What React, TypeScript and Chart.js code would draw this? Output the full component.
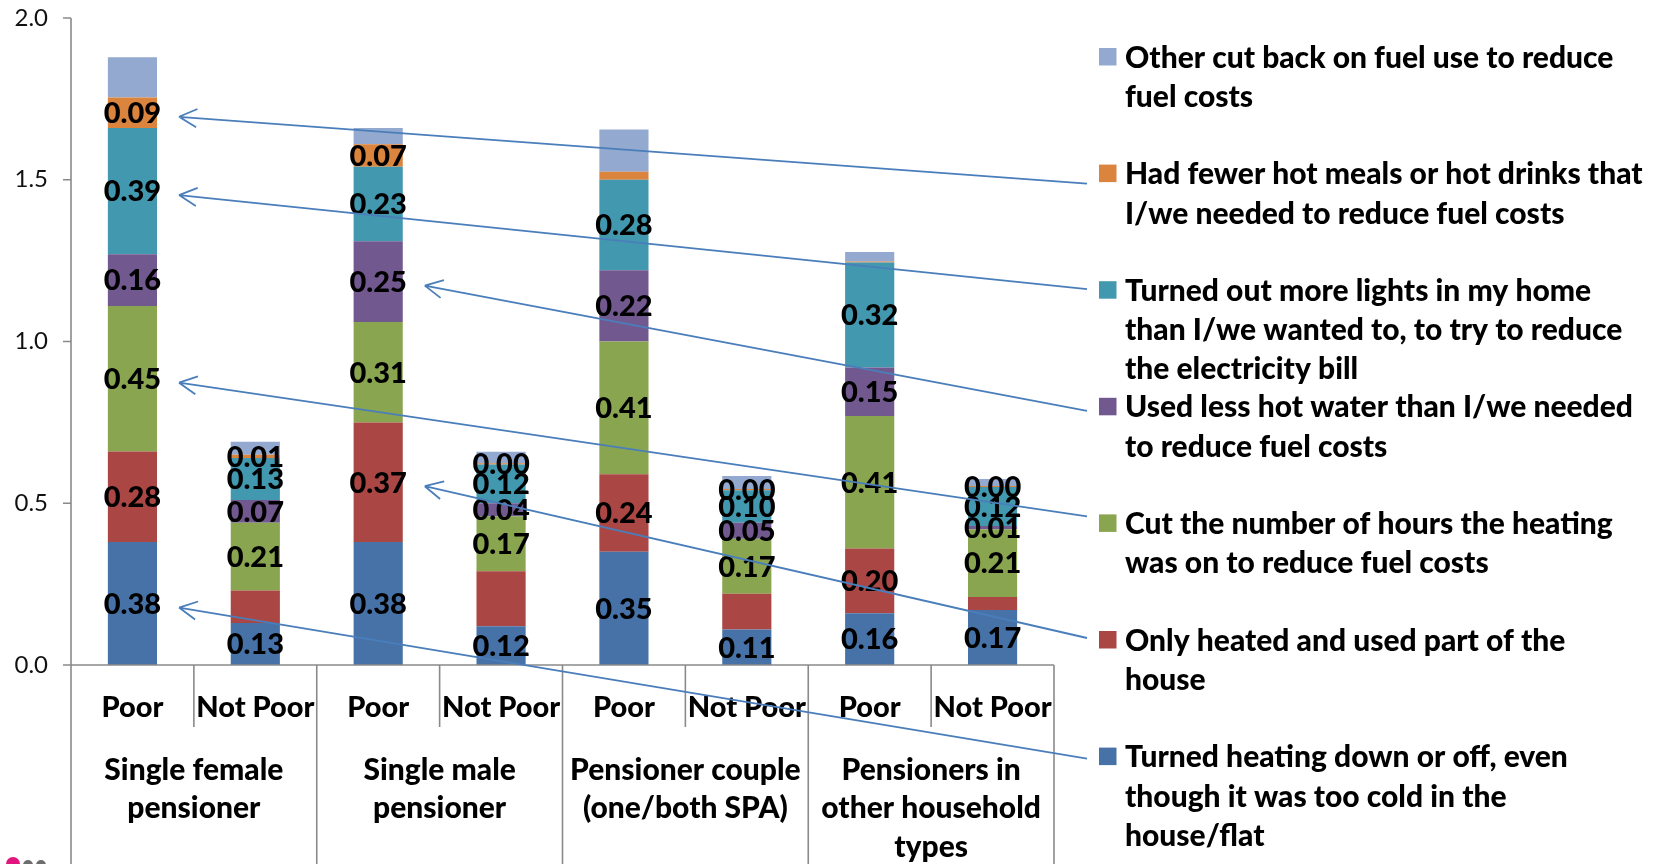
import React, { useEffect, useRef } from "react";
import { Chart, registerables } from "chart.js";

Chart.register(...registerables);

// ---------- data ----------
const povertyLabels = ["Poor", "Not Poor", "Poor", "Not Poor", "Poor", "Not Poor", "Poor", "Not Poor"];
const groupLabels = [
  ["Single female", "pensioner"],
  ["Single male", "pensioner"],
  ["Pensioner couple", "(one/both SPA)"],
  ["Pensioners in", "other household", "types"],
];
const yTickValues = [0, 0.5, 1.0, 1.5, 2.0];

const turnedHeatingDown = [0.38, 0.13, 0.38, 0.12, 0.35, 0.11, 0.16, 0.17];
const heatedPartOfHouse = [0.28, 0.10, 0.37, 0.17, 0.24, 0.11, 0.20, 0.04];
const cutHeatingHours = [0.45, 0.21, 0.31, 0.17, 0.41, 0.17, 0.41, 0.21];
const lessHotWater = [0.16, 0.07, 0.25, 0.04, 0.22, 0.05, 0.15, 0.01];
const turnedOutLights = [0.39, 0.13, 0.23, 0.12, 0.28, 0.10, 0.324, 0.12];
const fewerHotMeals = [0.094, 0.01, 0.07, 0.004, 0.025, 0.004, 0.003, 0.003];
const otherCutBack = [0.125, 0.04, 0.05, 0.035, 0.13, 0.04, 0.03, 0.022];

// which value labels are shown (per series, per bar)
const showHeatingDown = [true, true, true, true, true, true, true, true];
const showPartOfHouse = [true, false, true, false, true, false, true, false];
const showHeatingHours = [true, true, true, true, true, true, true, true];
const showHotWater = [true, true, true, true, true, true, true, true];
const showLights = [true, true, true, true, true, true, true, true];
const showHotMeals = [true, true, true, true, false, true, false, true];
const showOther = [false, false, false, false, false, false, false, false];

const seriesNames = [
  "Turned heating down or off, even though it was too cold in the house/flat",
  "Only heated and used part of the house",
  "Cut the number of hours the heating was on to reduce fuel costs",
  "Used less hot water than I/we needed to reduce fuel costs",
  "Turned out more lights in my home than I/we wanted to, to try to reduce the electricity bill",
  "Had fewer hot meals or hot drinks that I/we needed to reduce fuel costs",
  "Other cut back on fuel use to reduce fuel costs",
];
const legendLines = [
  ["Turned heating down or off, even", "though it was too cold in the", "house/flat"],
  ["Only heated and used part of the", "house"],
  ["Cut the number of hours the heating", "was on to reduce fuel costs"],
  ["Used less hot water than I/we needed", "to reduce fuel costs"],
  ["Turned out more lights in my home", "than I/we wanted to, to try to reduce", "the electricity bill"],
  ["Had fewer hot meals or hot drinks that", "I/we needed to reduce fuel costs"],
  ["Other cut back on fuel use to reduce", "fuel costs"],
];
const seriesValues = [
  turnedHeatingDown,
  heatedPartOfHouse,
  cutHeatingHours,
  lessHotWater,
  turnedOutLights,
  fewerHotMeals,
  otherCutBack,
];
const seriesShow = [showHeatingDown, showPartOfHouse, showHeatingHours, showHotWater, showLights, showHotMeals, showOther];

// arrows: [series index, bar index]
const arrowSeries = [5, 4, 3, 2, 1, 0];
const arrowBars = [0, 0, 2, 0, 2, 0];

// ---------- styles ----------
const COLORS = ["#4672A8", "#AA4643", "#8AA54F", "#71588F", "#4298AF", "#DB843D", "#93A9CF"];
const AXIS_COLOR = "#8A8A8A";
const ARROW_COLOR = "#4A7EBB";
const FONT = "Lato, 'Open Sans', sans-serif";
// y offset of arrow start relative to the legend square top, per series
const arrowStartOffset = [11, 7, 2, 13, 8, 19, 0];

const overlayPlugin = {
  id: "overlay",
  afterDatasetsDraw(chart: any) {
    const ctx: CanvasRenderingContext2D = chart.ctx;
    const xs = chart.scales.x;
    const ys = chart.scales.y;
    const area = chart.chartArea;
    const H = chart.height;
    const y0 = ys.getPixelForValue(0);
    const n = povertyLabels.length;
    const step = xs.getPixelForValue(1) - xs.getPixelForValue(0);

    ctx.save();
    // ---- axes ----
    ctx.strokeStyle = AXIS_COLOR;
    ctx.lineWidth = 1.6;
    ctx.beginPath();
    ctx.moveTo(area.left, ys.getPixelForValue(2));
    ctx.lineTo(area.left, H);
    yTickValues.forEach((v) => {
      const py = ys.getPixelForValue(v);
      ctx.moveTo(area.left - 8, py);
      ctx.lineTo(area.left, py);
    });
    ctx.moveTo(area.left, y0);
    ctx.lineTo(area.right, y0);
    for (let i = 1; i <= n; i++) {
      const px = xs.getPixelForValue(i - 1) + step / 2;
      ctx.moveTo(px, y0);
      ctx.lineTo(px, i % 2 === 0 ? H : y0 + 62);
    }
    ctx.stroke();

    // ---- y tick labels ----
    ctx.fillStyle = "#111";
    ctx.font = `24px ${FONT}`;
    ctx.textAlign = "right";
    ctx.textBaseline = "middle";
    yTickValues.forEach((v) => {
      ctx.fillText(v.toFixed(1), area.left - 23, ys.getPixelForValue(v));
    });

    // ---- x labels ----
    ctx.fillStyle = "#000";
    ctx.font = `900 29px ${FONT}`;
    ctx.textAlign = "center";
    povertyLabels.forEach((lab, i) => {
      ctx.fillText(lab, xs.getPixelForValue(i), y0 + 43);
    });
    ctx.font = `900 30px ${FONT}`;
    groupLabels.forEach((lines, g) => {
      const cx = (xs.getPixelForValue(2 * g) + xs.getPixelForValue(2 * g + 1)) / 2;
      lines.forEach((ln, k) => ctx.fillText(ln, cx, y0 + 105 + k * 38.5));
    });

    // ---- value labels ----
    ctx.font = `900 29px ${FONT}`;
    seriesValues.forEach((vals, si) => {
      const meta = chart.getDatasetMeta(si);
      vals.forEach((v, j) => {
        if (!seriesShow[si][j]) return;
        const el = meta.data[j];
        const cy = (el.y + el.base) / 2;
        ctx.fillText(v.toFixed(2), el.x, cy + 1);
      });
    });

    // ---- legend ----
    const sqX = area.right + 45;
    const txtX = sqX + 26;
    const top0 = 48;
    const gap = 116.6;
    const order = [6, 5, 4, 3, 2, 1, 0];
    ctx.textAlign = "left";
    ctx.font = `900 30px ${FONT}`;
    const squareTops: number[] = [];
    order.forEach((si, k) => {
      const top = top0 + k * gap;
      squareTops[si] = top;
      ctx.fillStyle = COLORS[si];
      ctx.fillRect(sqX, top, 17.5, 17.5);
      ctx.fillStyle = "#000";
      legendLines[si].forEach((ln, li) => ctx.fillText(ln, txtX, top + 10 + li * 39.3));
    });

    // ---- arrows ----
    ctx.strokeStyle = ARROW_COLOR;
    ctx.lineWidth = 1.8;
    arrowSeries.forEach((si, a) => {
      const el = chart.getDatasetMeta(si).data[arrowBars[a]];
      const tipX = el.x + el.width / 2 + 22;
      const tipY = (el.y + el.base) / 2 + 4;
      const sx = sqX - 12;
      const sy = squareTops[si] + arrowStartOffset[si];
      ctx.beginPath();
      ctx.moveTo(sx, sy);
      ctx.lineTo(tipX, tipY);
      const dx = sx - tipX;
      const dy = sy - tipY;
      const len = Math.hypot(dx, dy);
      const ux = dx / len;
      const uy = dy / len;
      const ang = (27 * Math.PI) / 180;
      const L = 20;
      [ang, -ang].forEach((t) => {
        const rx = ux * Math.cos(t) - uy * Math.sin(t);
        const ry = ux * Math.sin(t) + uy * Math.cos(t);
        ctx.moveTo(tipX + rx * L, tipY + ry * L);
        ctx.lineTo(tipX, tipY);
      });
      ctx.stroke();
    });

    // ---- partial logo fragment at bottom-left corner ----
    ctx.fillStyle = "#E0157E";
    ctx.beginPath();
    ctx.arc(13, 864, 7, 0, Math.PI * 2);
    ctx.fill();
    ctx.fillStyle = "#6E6E6E";
    ctx.beginPath();
    ctx.arc(28, 865, 5, 0, Math.PI * 2);
    ctx.arc(41, 865, 5, 0, Math.PI * 2);
    ctx.fill();

    ctx.restore();
  },
};

export default function App() {
  const ref = useRef<HTMLCanvasElement>(null);
  useEffect(() => {
    document.body.style.margin = "0";
    const canvas = ref.current!;
    const chart = new Chart(canvas, {
      type: "bar",
      data: {
        labels: povertyLabels,
        datasets: seriesValues.map((vals, i) => ({
          label: seriesNames[i],
          data: vals,
          backgroundColor: COLORS[i],
          borderWidth: 0,
          barPercentage: 0.4,
          categoryPercentage: 1.0,
        })),
      },
      options: {
        responsive: false,
        animation: false,
        devicePixelRatio: 1,
        layout: { padding: { left: 71, right: 605, top: 18, bottom: 199 } },
        plugins: { legend: { display: false }, tooltip: { enabled: false } },
        scales: {
          x: { stacked: true, display: false },
          y: { stacked: true, display: false, min: 0, max: 2 },
        },
      },
      plugins: [overlayPlugin],
    });
    return () => chart.destroy();
  }, []);
  return <canvas ref={ref} width={1659} height={864} style={{ display: "block", width: 1659, height: 864 }} />;
}
